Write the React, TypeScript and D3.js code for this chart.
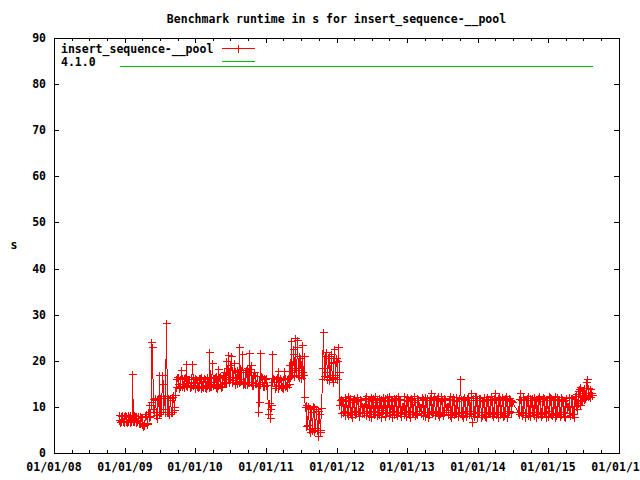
import React from "react";
import * as d3 from "d3";

const W = 640;
const H = 480;

const titleText = "Benchmark runtime in s for insert_sequence-__pool";
const yLabelText = "s";
const seriesName = "insert_sequence-__pool";
const refName = "4.1.0";
const refValue = 83.9;

const yTickValues = [0, 10, 20, 30, 40, 50, 60, 70, 80, 90];
const xTickDates = ["2008-01-01", "2009-01-01", "2010-01-01", "2011-01-01", "2012-01-01", "2013-01-01", "2014-01-01", "2015-01-01", "2016-01-01"];
const xTickLabels = ["01/01/08", "01/01/09", "01/01/10", "01/01/11", "01/01/12", "01/01/13", "01/01/14", "01/01/15", "01/01/16"];

// all runs sampled every 3.5 days (84 h)
const runStepHours = 84;

const runStart2008 = "2008-12-01";
const runtime2008 = [
  7.2, 8.2, 6.8, 8.0, 6.9, 8.2, 7.0, 8.1, 6.8, 8.2,
  7.0, 8.1, 6.8, 8.2, 7.0, 7.9, 6.8, 8.2, 7.0, 8.0,
  17.2, 6.9, 8.2, 7.0, 8.1, 6.8, 8.0, 7.0, 7.6, 8.1,
  6.5, 8.1, 6.4, 7.9, 6.2, 7.9, 5.8, 6.5, 6.0, 8.0,
  8.5, 6.3, 6.5, 9.0, 10.5, 7.8, 8.0, 11.0, 24.1, 22.9,
  9.5, 11.8, 9.0, 12.0, 11.5, 8.2, 7.5, 11.8, 12.0, 8.5,
  17.0, 9.0, 12.0, 9.0, 17.0, 15.0, 9.5, 12.0, 9.0, 12.3,
  28.2, 9.0, 12.0, 8.8, 8.5, 12.0, 11.5, 9.0, 9.0, 12.2,
  12.5, 9.3, 10.0, 12.5,
];

const runStart2009 = "2009-09-21";
const runtime2009 = [
  16.0, 14.3, 16.4, 15.0, 16.5, 14.2, 16.1, 14.5, 18.0, 14.6,
  16.3, 15.0, 16.2, 14.4, 16.5, 14.8, 19.3, 14.5, 16.1, 15.2,
  16.0, 14.3, 16.4, 14.5, 19.3, 14.7, 16.5, 15.5, 16.3, 14.2,
  16.0, 14.6, 15.8, 14.4, 16.2, 14.6, 16.2, 14.0, 16.4, 14.5,
  15.7, 14.3, 16.3, 14.4, 16.0, 14.2, 16.4, 14.8,
  15.5, 14.4, 22.0, 14.6, 16.4, 14.5, 19.5, 14.8, 16.2, 15.0,
  16.5, 14.3, 16.6, 14.2, 18.3, 14.7, 16.5, 15.0, 16.8, 14.4,
  16.3, 14.5, 17.0, 15.1, 17.5, 15.5, 20.0, 15.2, 18.5, 16.0,
  21.3, 15.4, 19.0, 16.5, 21.0, 15.3, 18.0, 15.8, 19.5, 15.0,
  17.8, 16.2, 18.0, 15.2, 17.5, 15.5, 23.0, 15.6, 18.0, 16.0,
  21.5, 15.0, 17.5, 15.2,
  17.5, 15.0, 18.0, 15.0, 18.5, 15.3, 21.7, 15.5, 18.2, 15.5,
  19.0, 14.8, 17.0, 14.8, 17.5, 15.1, 16.8, 15.2, 16.8, 14.6,
  9.0, 11.1, 21.7, 15.0, 16.8, 15.5, 16.5, 14.6, 16.2, 14.5,
  16.0, 14.7, 16.3, 14.8, 8.5, 10.8, 10.8, 9.5, 7.6, 10.5,
  21.5, 15.5, 16.3, 15.5, 16.0, 14.0, 16.0, 14.5, 16.4, 14.2,
  17.8, 14.8, 16.2, 14.5, 15.8, 14.3, 16.1, 14.0, 17.8, 14.6,
  16.2, 14.8, 16.0, 14.4, 16.3, 15.0,
];

const runStart2011 = "2011-05-02";
const runtime2011 = [
  19.0, 16.5, 24.3, 17.0, 17.5, 22.5, 21.5, 16.8, 25.0, 18.5,
  18.0, 23.0, 24.5, 17.0, 16.5, 21.0, 20.5, 16.2, 23.5, 17.5,
  17.0, 21.0, 12.2, 10.0, 10.5, 5.8, 6.0, 10.2, 9.5, 5.2,
  4.5, 9.8, 9.0, 5.5, 5.0, 10.1, 10.0, 4.8, 5.5, 9.6,
  9.5, 5.0, 3.6, 9.2, 8.5, 4.6, 5.0, 9.8, 16.0, 18.5,
  26.3, 16.8, 17.5, 21.0, 22.0, 16.5, 16.0, 20.5, 21.0, 15.8,
  17.0, 21.5, 19.5, 16.2, 15.5, 19.8, 22.5, 16.4, 17.0, 20.5,
  20.0, 16.0, 23.0, 17.5, 10.5, 11.5,
];

const runStart2012 = "2012-01-23";
const runtime2012 = [
  11.8, 8.6, 11.5, 8.9, 11.2, 9.1, 12.1, 8.3, 11.6, 8.7,
  12.3, 8.2, 11.4, 9.0, 11.9, 8.5, 11.1, 7.8, 11.7, 9.2,
  12.0, 8.4, 11.3, 8.8, 12.2, 9.0, 11.6, 8.1, 11.8, 8.9,
  11.5, 8.6, 10.1, 10.0, 10.2, 8.7, 11.9, 8.3, 12.4, 9.1,
  11.2, 8.0, 11.8, 8.9, 12.1, 7.7, 11.5, 9.2, 11.9, 8.4,
  12.3, 8.8, 11.0, 8.2, 11.7, 9.0, 12.0, 8.5, 11.4, 7.9,
  11.8, 8.7, 12.2, 9.3, 11.3, 8.1, 11.9, 8.6, 12.1, 9.0,
  11.6, 8.3, 12.4, 8.9, 11.2, 7.8, 11.8, 9.1, 12.0, 8.5,
  11.5, 8.8, 11.9, 8.2, 12.3, 9.0, 11.4, 8.6, 11.7, 8.1,
  10.0, 10.1, 10.1, 8.4, 12.4, 8.9, 11.6, 8.0, 12.2, 9.2,
  11.3, 8.5, 11.8, 7.7, 12.0, 8.8, 11.5, 9.0, 12.3, 8.3,
  11.1, 8.7, 11.9, 8.4, 11.6, 9.1, 10.1, 10.0, 10.0, 8.6,
  12.1, 8.3, 11.7, 9.0, 12.2, 8.1, 11.4, 8.8, 11.9, 7.8,
  11.6, 8.5, 12.0, 9.2, 13.0, 8.6, 11.8, 8.9, 12.2, 8.2,
  11.5, 9.1, 11.9, 8.4, 12.3, 8.0, 11.2, 8.7, 12.4, 9.0,
  11.7, 8.3, 12.0, 8.8, 11.4, 9.3, 10.0, 10.2, 10.1, 8.5,
  11.8, 8.2, 12.3, 7.7, 11.5, 8.9, 12.1, 8.4, 11.6, 9.0,
  12.2, 8.6, 11.3, 8.1, 11.9, 8.8, 16.0, 9.0, 11.7, 8.3,
  11.7, 7.8, 12.2, 8.6, 11.5, 8.0, 11.9, 9.2, 12.1, 8.4,
  11.4, 9.2, 13.0, 8.5, 6.8, 8.7, 11.9, 8.1, 12.3, 8.6,
  12.4, 7.7, 11.6, 8.9, 11.9, 8.8, 12.0, 7.9, 11.4, 8.3,
  11.3, 8.5, 12.2, 8.0, 11.8, 7.7, 12.1, 8.6, 11.5, 9.0,
  11.8, 9.0, 12.3, 8.4, 11.6, 8.0, 12.0, 8.7, 13.0, 8.4,
  11.5, 8.9, 11.9, 7.8, 12.1, 8.5, 11.7, 8.9, 12.2, 8.1,
  11.6, 8.2, 12.0, 8.7, 12.3, 7.9, 11.8, 8.6, 11.9, 9.1,
  11.4, 8.8, 11.2, 11.0,
];

const runStart2014 = "2014-07-28";
const runtime2014 = [
  9.0, 11.8, 8.4, 13.0, 8.9, 11.6, 8.3, 12.2, 8.6, 11.7,
  7.8, 11.5, 8.6, 12.0, 8.2, 12.3, 8.7, 11.9, 8.1, 11.6,
  8.8, 11.9, 9.0, 12.1, 8.3, 11.4, 7.7, 11.8, 8.9, 12.0,
  8.5, 12.4, 8.6, 11.3, 8.0, 11.7, 8.4, 12.2, 8.8, 12.0,
  8.7, 11.6, 7.9, 11.5, 8.1, 12.3, 9.1, 12.2, 8.5, 11.9,
  8.3, 11.8, 8.6, 11.5, 7.7, 12.3, 8.2, 12.1, 8.6, 11.6,
  8.9, 11.7, 8.0, 12.1, 8.4, 11.8, 8.9, 11.3, 8.0, 11.6,
  7.8, 12.0, 10.0, 10.1, 10.1, 8.7, 12.2, 8.3, 12.0, 8.4,
  11.9, 8.5, 11.8, 7.9, 12.4, 10.2, 12.8, 9.5, 13.5, 10.8,
  13.9, 10.5, 14.3, 11.2, 13.6, 11.5, 13.0, 11.8, 14.2, 12.0,
  15.5, 12.6, 16.0, 12.4, 14.1, 12.5, 13.8, 12.2, 13.0, 12.5,
];

const parse = d3.timeParse("%Y-%m-%d");

type Pt = { date: Date; value: number };

function stepped(start: string, values: number[]): Pt[] {
  const s = parse(start) as Date;
  return values.map((v, i) => ({ date: d3.timeHour.offset(s, runStepHours * i), value: v }));
}

const FONT = "'DejaVu Sans Mono', monospace";

export default function App() {
  const left = 54, right = 619, top = 38, bottom = 453;
  const x = d3
    .scaleTime()
    .domain([parse(xTickDates[0]) as Date, parse(xTickDates[xTickDates.length - 1]) as Date])
    .range([left, right]);
  const y = d3.scaleLinear().domain([0, 90]).range([bottom, top]);

  const pts = [
    ...stepped(runStart2008, runtime2008),
    ...stepped(runStart2009, runtime2009),
    ...stepped(runStart2011, runtime2011),
    ...stepped(runStart2012, runtime2012),
    ...stepped(runStart2014, runtime2014),
  ];
  const px = (d: Pt) => Math.round(x(d.date)) + 0.5;
  const py = (d: Pt) => Math.round(y(d.value)) + 0.5;

  const line = d3.line<Pt>().x(px).y(py)(pts) || "";
  const r = 4;
  const plus = pts
    .map((d) => {
      const cx = px(d), cy = py(d);
      return `M${cx - r},${cy}H${cx + r}M${cx},${cy - r}V${cy + r}`;
    })
    .join("");

  const refPts: Pt[] = [
    { date: pts[0].date, value: refValue },
    { date: pts[pts.length - 1].date, value: refValue },
  ];
  const refLine = d3.line<Pt>().x(px).y(py)(refPts) || "";

  const majorDates = xTickDates.map((s) => parse(s) as Date);
  const minorDates = d3
    .timeMonth.every(3)!
    .range(majorDates[0], majorDates[majorDates.length - 1])
    .filter((d) => d.getMonth() !== 0);

  const ticksPath: string[] = [];
  majorDates.forEach((d) => {
    const X = Math.round(x(d)) + 0.5;
    ticksPath.push(`M${X},${bottom}V${bottom - 5}M${X},${top}V${top + 5}`);
  });
  minorDates.forEach((d) => {
    const X = Math.round(x(d)) + 0.5;
    ticksPath.push(`M${X},${bottom}V${bottom - 3}M${X},${top}V${top + 3}`);
  });
  yTickValues.forEach((v) => {
    const Y = Math.round(y(v)) + 0.5;
    ticksPath.push(`M${left},${Y}H${left + 5}M${right},${Y}H${right - 5}`);
  });

  const textStyle = { fontFamily: FONT, fontWeight: "bold" as const, fontSize: "11.5px" };

  return (
    <svg
      width={W}
      height={H}
      style={{ position: "absolute", left: 0, top: 0, background: "#fff" }}
    >
      <rect x={0} y={0} width={W} height={H} fill="#fff" />
      <text x={(left + right) / 2} y={23} textAnchor="middle" {...textStyle}>
        {titleText}
      </text>
      <text x={14} y={249} textAnchor="middle" {...textStyle}>
        {yLabelText}
      </text>
      {yTickValues.map((v) => (
        <text key={v} x={46} y={Math.round(y(v)) + 4} textAnchor="end" {...textStyle}>
          {v}
        </text>
      ))}
      {majorDates.map((d, i) => (
        <text key={i} x={Math.round(x(d))} y={471} textAnchor="middle" {...textStyle}>
          {xTickLabels[i]}
        </text>
      ))}
      <path d={line} fill="none" stroke="#ff0000" strokeWidth={1} shapeRendering="crispEdges" />
      <path d={plus} fill="none" stroke="#ff0000" strokeWidth={1} shapeRendering="crispEdges" />
      <path d={refLine} fill="none" stroke="#00c000" strokeWidth={1} shapeRendering="crispEdges" />
      <path d={ticksPath.join("")} fill="none" stroke="#000" strokeWidth={1} shapeRendering="crispEdges" />
      <rect
        x={left + 0.5}
        y={top + 0.5}
        width={right - left}
        height={bottom - top}
        fill="none"
        stroke="#000"
        strokeWidth={1}
        shapeRendering="crispEdges"
      />
      {/* legend */}
      <text x={61} y={53} {...textStyle}>{seriesName}</text>
      <path d="M222,48.5H255M238.5,44.5V52.5" stroke="#ff0000" strokeWidth={1} shapeRendering="crispEdges" />
      <text x={61} y={66} {...textStyle}>{refName}</text>
      <path d="M222,61.5H255" stroke="#00c000" strokeWidth={1} shapeRendering="crispEdges" />
    </svg>
  );
}
